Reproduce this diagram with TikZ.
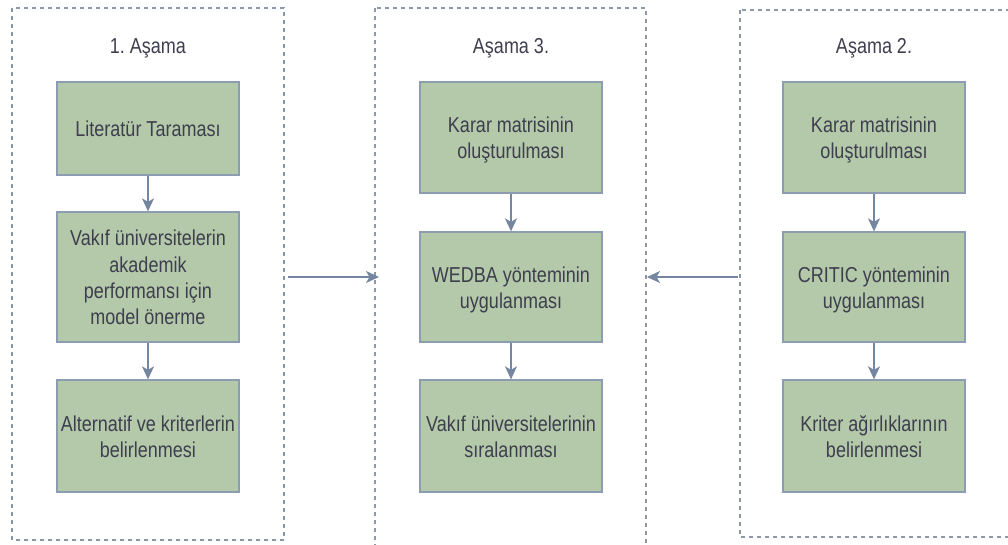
\documentclass[tikz,border=0pt]{standalone}
\usepackage{fontspec}
\setmainfont{Liberation Sans}
\usetikzlibrary{arrows.meta}
\frenchspacing
\definecolor{boxfill}{HTML}{B3C9A9}
\definecolor{boxline}{HTML}{8C9DB2}
\definecolor{txt}{HTML}{3E3E4E}
\definecolor{arr}{HTML}{7586A0}
\definecolor{dash}{HTML}{8C98A8}
\newcommand{\tallt}[1]{\raisebox{-3pt}[\height][\depth]{\scalebox{1}[1.2]{\begin{tabular}{@{}c@{}}#1\end{tabular}}}}
\tikzset{
  stepbox/.style={draw=boxline, line width=1.3pt, fill=boxfill, text=txt,
    minimum width=182pt, align=center, inner sep=0pt,
    font=\fontsize{18}{22}\selectfont},
  title/.style={text=txt, font=\fontsize{18}{22}\selectfont, inner sep=0pt},
  container/.style={draw=dash, line width=1.4pt, dash pattern=on 4pt off 4pt},
  conn/.style={draw=arr, line width=1.5pt, -{Stealth[length=13pt,width=12pt,inset=3.5pt]}}
}
\begin{document}
\begin{tikzpicture}[x=1pt,y=-1pt]
\useasboundingbox (0,0) rectangle (1008,544);
\clip (0,0) rectangle (1008,544);
% containers
\draw[container] (12,8) rectangle (284,540);
\draw[container] (375,8) rectangle (646,580);
\draw[container] (740,10) rectangle (1040,537);
% titles
\node[title] (t1) at (148,45) {\tallt{1. Aşama}};
\node[title] (t3) at (511,45) {\tallt{Aşama 3.}};
\node[title] (t2) at (874,45) {\tallt{Aşama 2.}};
% left column
\node[stepbox, minimum height=93pt] (a1) at (148,128.5) {\tallt{Literatür Taraması}};
\node[stepbox, minimum height=130pt] (a2) at (148,277) {\tallt{Vakıf üniversitelerin\\akademik\\performansı için\\model önerme}};
\node[stepbox, minimum height=112pt] (a3) at (148,436) {\tallt{Alternatif ve kriterlerin\\belirlenmesi}};
% middle column
\node[stepbox, minimum height=111pt] (m1) at (511,137.5) {\tallt{Karar matrisinin\\oluşturulması}};
\node[stepbox, minimum height=110pt] (m2) at (511,287) {\tallt{WEDBA yönteminin\\uygulanması}};
\node[stepbox, minimum height=112pt] (m3) at (511,436) {\tallt{Vakıf üniversitelerinin\\sıralanması}};
% right column
\node[stepbox, minimum height=111pt] (r1) at (874,137.5) {\tallt{Karar matrisinin\\oluşturulması}};
\node[stepbox, minimum height=110pt] (r2) at (874,287) {\tallt{CRITIC yönteminin\\uygulanması}};
\node[stepbox, minimum height=112pt] (r3) at (874,436) {\tallt{Kriter ağırlıklarının\\belirlenmesi}};
% vertical arrows
\draw[conn] (a1) -- (a2);
\draw[conn] (a2) -- (a3);
\draw[conn] (m1) -- (m2);
\draw[conn] (m2) -- (m3);
\draw[conn] (r1) -- (r2);
\draw[conn] (r2) -- (r3);
% horizontal arrows
\coordinate (h1s) at (288,277);
\coordinate (h1e) at (379,277);
\coordinate (h2s) at (738,277);
\coordinate (h2e) at (647,277);
\draw[conn] (h1s) -- (h1e);
\draw[conn] (h2s) -- (h2e);
\end{tikzpicture}
\end{document}
